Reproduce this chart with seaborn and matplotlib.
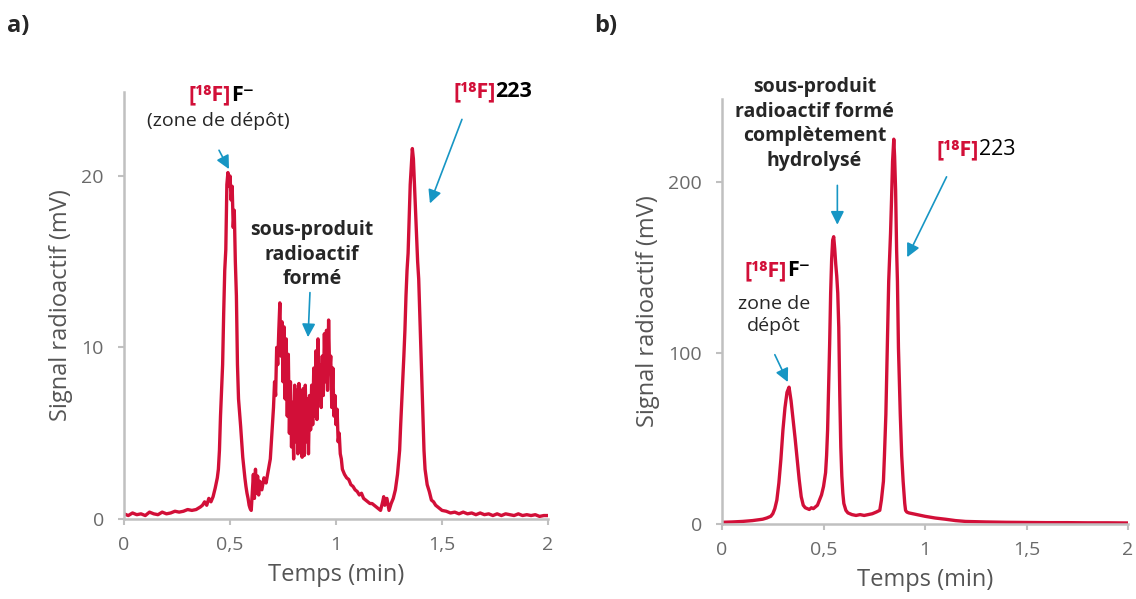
import matplotlib
matplotlib.use("Agg")
import matplotlib.pyplot as plt
import seaborn as sns

# ---- data ----
# panel a : radio-TLC, noisy trace
temps_a = [
    0.00, 0.02, 0.04, 0.06, 0.08, 0.10, 0.12, 0.14, 0.16, 0.18,
    0.20, 0.22, 0.24, 0.26, 0.28, 0.30, 0.32, 0.34, 0.36,
    0.37, 0.38, 0.39, 0.40, 0.41, 0.42, 0.43, 0.44,
    0.445, 0.45, 0.455, 0.46, 0.465, 0.47, 0.475, 0.48, 0.485, 0.49,
    0.495, 0.50, 0.505, 0.51, 0.515, 0.52, 0.525, 0.53, 0.535, 0.54,
    0.545, 0.55, 0.555, 0.56, 0.565, 0.57, 0.575, 0.58, 0.585, 0.59,
    0.595, 0.60, 0.605, 0.61, 0.615, 0.62, 0.625, 0.63, 0.635, 0.64,
    0.65, 0.66, 0.67, 0.68, 0.69, 0.70, 0.705, 0.71, 0.715, 0.72,
    0.725, 0.73, 0.735, 0.74, 0.745, 0.75, 0.755, 0.76, 0.765, 0.77,
    0.775, 0.78, 0.785, 0.79, 0.795, 0.80, 0.805, 0.81, 0.815, 0.82,
    0.825, 0.83, 0.835, 0.84, 0.845, 0.85, 0.855, 0.86, 0.865, 0.87,
    0.875, 0.88, 0.885, 0.89, 0.895, 0.90, 0.905, 0.91, 0.915, 0.92,
    0.925, 0.93, 0.935, 0.94, 0.945, 0.95, 0.955, 0.96, 0.965, 0.97,
    0.975, 0.98, 0.985, 0.99, 0.995, 1.00, 1.005, 1.01, 1.015, 1.02,
    1.025, 1.03, 1.04, 1.05, 1.06, 1.07, 1.08, 1.09, 1.10, 1.11,
    1.12, 1.13, 1.14, 1.15, 1.16, 1.17, 1.18, 1.19, 1.20, 1.21,
    1.22, 1.225, 1.23, 1.24, 1.25, 1.26, 1.27, 1.28, 1.29, 1.30,
    1.305, 1.31, 1.315, 1.32, 1.325, 1.33, 1.335, 1.34, 1.345, 1.35,
    1.355, 1.36, 1.365, 1.37, 1.375, 1.38, 1.385, 1.39, 1.395, 1.40,
    1.405, 1.41, 1.415, 1.42, 1.43, 1.44, 1.45, 1.46, 1.47, 1.48,
    1.49, 1.50, 1.52, 1.54, 1.56, 1.58, 1.60, 1.62, 1.64, 1.66,
    1.68, 1.70, 1.72, 1.74, 1.76, 1.78, 1.80, 1.82, 1.84, 1.86,
    1.88, 1.90, 1.92, 1.94, 1.96, 1.98, 2.00,
]
signal_a = [
    0.30, 0.20, 0.35, 0.25, 0.30, 0.20, 0.40, 0.30, 0.25, 0.40,
    0.30, 0.35, 0.45, 0.40, 0.45, 0.55, 0.50, 0.55, 0.70,
    0.80, 1.00, 0.80, 1.20, 1.00, 1.30, 1.80, 2.40,
    2.9, 4.0, 6.0, 7.5, 9.0, 12.0, 14.5, 15.7, 19.5, 20.2,
    19.4, 20.0, 18.6, 19.4, 17.0, 18.0, 15.0, 13.0, 9.0, 7.0,
    6.2, 5.4, 4.5, 3.6, 3.0, 2.4, 1.9, 1.5, 1.2, 0.8,
    0.6, 0.5, 1.5, 2.6, 1.2, 2.9, 1.5, 2.5, 1.4, 2.2,
    1.7, 2.4, 2.1, 2.8, 3.5, 5.5, 6.5, 8.0, 7.2, 10.0,
    9.0, 11.0, 12.6, 9.5, 11.5, 8.0, 11.2, 7.0, 10.5, 6.0,
    9.6, 5.0, 8.0, 4.2, 6.8, 3.5, 7.8, 4.5, 7.5, 3.8,
    7.9, 4.2, 7.2, 3.6, 7.6, 3.7, 7.8, 4.5, 7.0, 3.8,
    7.2, 5.2, 7.8, 5.5, 8.8, 6.0, 9.8, 5.8, 10.5, 7.0,
    9.0, 6.5, 9.5, 7.2, 10.8, 8.0, 11.0, 7.5, 11.6, 8.5,
    9.5, 6.5, 8.8, 6.0, 7.2, 5.5, 6.4, 4.5, 5.0, 3.8,
    3.5, 2.9, 2.6, 2.4, 2.3, 2.0, 1.9, 1.7, 1.6, 1.4,
    1.5, 1.2, 1.1, 1.0, 0.9, 0.9, 0.8, 0.7, 0.6, 0.5,
    1.0, 1.3, 0.8, 1.2, 0.5, 0.9, 1.2, 1.7, 2.6, 4.0,
    5.5, 6.8, 8.0, 9.5, 11.0, 13.0, 14.5, 15.5, 17.5, 19.5,
    20.5, 21.6, 21.0, 19.5, 18.0, 16.5, 15.0, 14.0, 12.0, 10.0,
    8.0, 6.0, 4.0, 2.9, 2.0, 1.6, 1.1, 1.0, 0.8, 0.7,
    0.6, 0.5, 0.45, 0.35, 0.40, 0.30, 0.40, 0.30, 0.35, 0.25,
    0.35, 0.25, 0.30, 0.20, 0.30, 0.20, 0.30, 0.25, 0.20, 0.30,
    0.20, 0.25, 0.20, 0.25, 0.15, 0.20, 0.20,
]

# panel b : radio-TLC after hydrolysis
temps_b = [
    0.00, 0.05, 0.10, 0.15, 0.20, 0.22, 0.24, 0.25, 0.26, 0.27,
    0.28, 0.29, 0.30, 0.31, 0.32, 0.33, 0.34, 0.35, 0.36, 0.37,
    0.38, 0.39, 0.40, 0.41, 0.42, 0.43, 0.44, 0.45, 0.46, 0.47,
    0.48, 0.49, 0.50, 0.51, 0.515, 0.52, 0.525, 0.53, 0.535, 0.54,
    0.545, 0.55, 0.555, 0.56, 0.565, 0.57, 0.575, 0.58, 0.585, 0.59,
    0.595, 0.60, 0.61, 0.62, 0.64, 0.66, 0.68, 0.70, 0.72, 0.74,
    0.76, 0.777, 0.785, 0.795, 0.80, 0.807, 0.814, 0.821, 0.83, 0.835,
    0.84, 0.846, 0.85, 0.855, 0.86, 0.864, 0.869, 0.878, 0.885, 0.892,
    0.90, 0.904, 0.91, 0.92, 0.94, 0.96, 0.98, 1.00, 1.05, 1.10,
    1.15, 1.20, 1.30, 1.40, 1.50, 1.60, 1.70, 1.80, 1.90, 2.00,
]
signal_b = [
    1.0, 1.2, 1.5, 2.0, 2.8, 3.5, 4.5, 6.0, 9.0, 14.0,
    24.0, 38.0, 55.0, 68.0, 77.0, 80.0, 72.0, 61.0, 50.0, 38.0,
    26.0, 16.0, 11.0, 9.5, 9.0, 8.5, 9.5, 9.0, 10.0, 11.0,
    14.0, 17.0, 22.0, 30.0, 40.0, 55.0, 80.0, 105.0, 135.0, 155.0,
    166.0, 168.0, 161.0, 152.0, 145.0, 135.0, 115.0, 75.0, 45.0, 28.0,
    18.0, 12.0, 8.0, 6.5, 5.5, 5.0, 5.5, 5.0, 5.5, 6.0,
    7.0, 8.0, 14.0, 25.0, 40.0, 64.0, 103.0, 142.0, 170.0, 190.0,
    212.0, 225.0, 215.0, 195.0, 160.0, 142.0, 103.0, 64.0, 40.0, 25.0,
    12.0, 8.0, 7.0, 6.5, 6.0, 5.5, 5.0, 4.5, 3.5, 2.8,
    2.0, 1.5, 1.2, 1.0, 0.9, 0.8, 0.8, 0.7, 0.7, 0.6,
]

x_ticks = [0, 0.5, 1, 1.5, 2]
x_tick_labels = ["0", "0,5", "1", "1,5", "2"]
y_ticks_a = [0, 10, 20]
y_ticks_b = [0, 100, 200]

RED = "#d20f38"
BLUE = "#1796c4"
GREY_SPINE = "#c0c0c0"
GREY_TEXT = "#6a6a6a"

sns.set_style("ticks")
plt.rcParams["font.family"] = ["Open Sans", "DejaVu Sans"]

fig = plt.figure(figsize=(11.36, 5.99), dpi=100)
ax_a = fig.add_axes([0.1092, 0.1336, 0.3732, 0.7129])
ax_b = fig.add_axes([0.6356, 0.1252, 0.3574, 0.7095])

sns.lineplot(x=temps_a, y=signal_a, ax=ax_a, color=RED, linewidth=2.4, sort=False)
sns.lineplot(x=temps_b, y=signal_b, ax=ax_b, color=RED, linewidth=2.4, sort=False)

for ax, yt, ytop in [(ax_a, y_ticks_a, 24.9), (ax_b, y_ticks_b, 248.5)]:
    ax.set_xlim(0, 2)
    ax.set_ylim(0, ytop)
    ax.set_xticks(x_ticks)
    ax.set_xticklabels(x_tick_labels)
    ax.set_yticks(yt)
    sns.despine(ax=ax)
    for side in ["left", "bottom"]:
        ax.spines[side].set_color(GREY_SPINE)
        ax.spines[side].set_linewidth(1.8)
    ax.tick_params(colors=GREY_SPINE, labelcolor=GREY_TEXT, labelsize=14,
                   length=4.5, width=1.5)
    ax.tick_params(axis="y", pad=10)
    ax.tick_params(axis="x", pad=8)
    ax.set_xlabel("Temps (min)", fontsize=17, color="#555555", labelpad=6)
    ax.set_ylabel("Signal radioactif (mV)", fontsize=17, color="#555555", labelpad=6)


def arrow(ax, tail, tip):
    ax.annotate("", xy=tip, xytext=tail,
                arrowprops=dict(arrowstyle="-|>", color=BLUE, lw=1.2,
                                mutation_scale=20, shrinkA=0, shrinkB=0))


def iso_label(ax, x, y, rest, size=15.5, rest_weight="bold"):
    ax.text(x, y, "[¹⁸F]", color=RED, fontsize=size, fontweight="bold",
            ha="right", va="center")
    ax.text(x, y, rest, color="black", fontsize=size, fontweight=rest_weight,
            ha="left", va="center")


# panel a annotations
iso_label(ax_a, 0.505, 24.7, "F⁻")
ax_a.text(0.443, 23.2, "(zone de dépôt)", fontsize=14, ha="center", va="center")
arrow(ax_a, (0.448, 21.5), (0.495, 20.4))

iso_label(ax_a, 1.752, 24.9, "223")
arrow(ax_a, (1.594, 23.3), (1.443, 18.4))

ax_a.text(0.887, 15.4, "sous-produit\nradioactif\nformé", fontsize=14,
          fontweight="bold", ha="center", va="center", linespacing=1.3)
arrow(ax_a, (0.877, 13.2), (0.868, 10.6))

# panel b annotations
ax_b.text(0.455, 234, "sous-produit\nradioactif formé\ncomplètement\nhydrolysé",
          fontsize=14, fontweight="bold", ha="center", va="center", linespacing=1.3)
arrow(ax_b, (0.568, 198), (0.568, 175))

iso_label(ax_b, 1.265, 219, "223", rest_weight="normal")
arrow(ax_b, (1.106, 203), (0.912, 156))

iso_label(ax_b, 0.32, 148, "F⁻")
ax_b.text(0.257, 122, "zone de\ndépôt", fontsize=14, ha="center", va="center",
          linespacing=1.3)
arrow(ax_b, (0.26, 99), (0.324, 83))

fig.text(0.006, 0.957, "a)", fontsize=17, fontweight="bold", ha="left", va="center")
fig.text(0.523, 0.957, "b)", fontsize=17, fontweight="bold", ha="left", va="center")

fig.savefig("out.png", dpi=100)
